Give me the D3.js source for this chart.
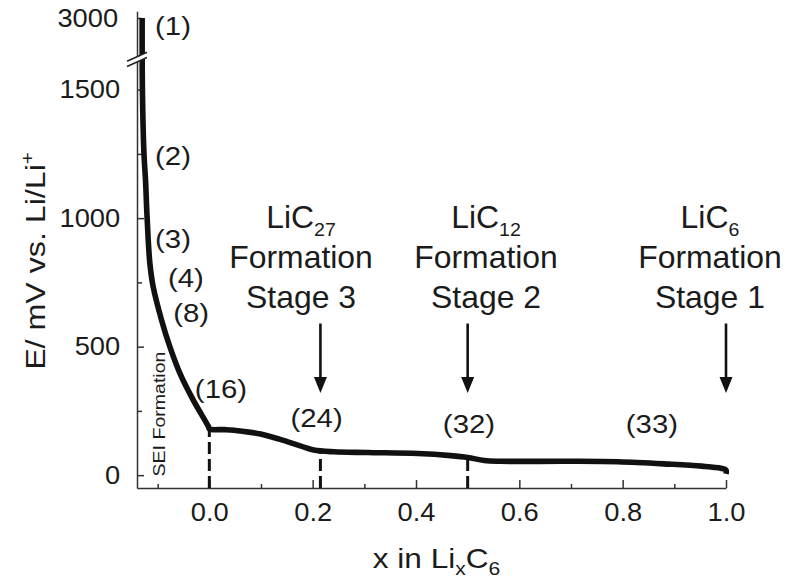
<!DOCTYPE html>
<html>
<head>
<meta charset="utf-8">
<script src="https://cdn.jsdelivr.net/npm/d3@7"></script>
<style>
  html, body { margin: 0; padding: 0; background: #fff; }
  svg { display: block; }
</style>
</head>
<body>
<svg id="chart" width="798" height="583"></svg>
<script>
// First lithiation of graphite: composition x in LixC6 and potential (mV vs. Li/Li+)
const compX = [-0.130, -0.1295, -0.1265, -0.1235, -0.1204, -0.1151, -0.1087, -0.0924, -0.0763,
               -0.0569, -0.0311, -0.0020, 0.000, 0.030, 0.060, 0.099, 0.137, 0.176, 0.202,
               0.241, 0.306, 0.403, 0.467, 0.500, 0.532, 0.564, 0.694, 0.791, 0.888, 0.953,
               0.990, 1.000, 1.000];
const potential = [3000, 1500, 1250, 1148, 1000, 824, 733, 603, 499,
                   396, 292, 190, 180, 177, 172, 160, 139, 114, 98,
                   91, 88, 84, 76, 69, 57, 54, 54, 52, 43, 35,
                   27, 20, 5];

// Axis ticks
const xTicksMajor = [0.0, 0.2, 0.4, 0.6, 0.8, 1.0];
const xTicksMinor = [-0.1, 0.1, 0.3, 0.5, 0.7, 0.9];
const yTicksMajor = [0, 500, 1000, 1500];
const yTicksMinor = [250, 750, 1250];
const yTicksUpper = [3000];

// Numbered points along the curve
const pointLabels = ["(1)", "(2)", "(3)", "(4)", "(8)", "(16)", "(24)", "(32)", "(33)"];
const pointLabelX = [-0.105, -0.105, -0.105, -0.080, -0.070, -0.028, 0.157, 0.452, 0.806];
const pointLabelE = [2900, 1207, 884, 732, 596, 300, 187, 164, 164];

// Ends of the staging steps (dashed drop lines)
const dropX = [0.0, 0.215, 0.5];
const dropE = [180, 93, 69];

// Staging annotations
const stageX = [0.215, 0.5, 1.0];
const stageTextX = [0.1775, 0.5355, 0.969];
const stagePhase = ["27", "12", "6"];
const stageName = ["Stage 3", "Stage 2", "Stage 1"];
const arrowTopE = 590, arrowTipE = 320;

const FONT = '"Liberation Sans", Arial, Helvetica, sans-serif';
const INK = "#1b1b1b";

const svg = d3.select("#chart").attr("font-family", FONT);

// Scales: x, and a broken potential axis (lower 0–1500 range, upper part around 3000)
const x = d3.scaleLinear().domain([-0.14, 1.0]).range([137, 726]);
const yLow = d3.scaleLinear().domain([-50, 1620]).range([488, 58.8]);
const yBreak = yLow(1620);
const upperPerMv = (yBreak - 18) / (3000 - 2760);
const yHigh = d3.scaleLinear().domain([2760, 3040])
  .range([yBreak, yBreak - (3040 - 2760) * upperPerMv]);
const yMap = v => (v > 2000 ? yHigh(v) : yLow(v));

const x0 = x.range()[0];
const yAxisBase = yLow.range()[0];

function styleAxis(g, size, sx) {
  g.attr("font-family", FONT).attr("font-size", size);
  g.selectAll(".domain").attr("stroke", "#333").attr("stroke-width", 1.5);
  g.selectAll(".tick line").attr("stroke", "#333").attr("stroke-width", 1.5);
  g.selectAll(".tick text").attr("fill", INK).attr("transform", `scale(${sx},1)`);
}

// x axis (ticks pointing into the plot)
const gx = svg.append("g").attr("transform", `translate(0,${yAxisBase})`)
  .call(d3.axisBottom(x).tickValues(xTicksMajor).tickFormat(d3.format(".1f"))
    .tickSizeInner(-8).tickSizeOuter(0).tickPadding(15));
styleAxis(gx, 26, 1.05);
const gxm = svg.append("g").attr("transform", `translate(0,${yAxisBase})`)
  .call(d3.axisBottom(x).tickValues(xTicksMinor).tickFormat("")
    .tickSizeInner(-4).tickSizeOuter(0));
gxm.select(".domain").remove();
styleAxis(gxm, 26, 1);

// y axis, lower segment
const gy = svg.append("g").attr("transform", `translate(${x0},0)`)
  .call(d3.axisLeft(yLow).tickValues(yTicksMajor).tickFormat(d3.format("d"))
    .tickSizeInner(-7).tickSizeOuter(0).tickPadding(16));
styleAxis(gy, 26, 1.05);
const gym = svg.append("g").attr("transform", `translate(${x0},0)`)
  .call(d3.axisLeft(yLow).tickValues(yTicksMinor).tickFormat("")
    .tickSizeInner(-5).tickSizeOuter(0));
gym.select(".domain").remove();
styleAxis(gym, 26, 1);

// y axis, upper segment
const gyu = svg.append("g").attr("transform", `translate(${x0},0)`)
  .call(d3.axisLeft(yHigh).tickValues(yTicksUpper).tickFormat(d3.format("d"))
    .tickSizeInner(-5).tickSizeOuter(0).tickPadding(18));
styleAxis(gyu, 26, 1.05);

// Drop lines at the end of each step
svg.append("g").selectAll("line").data(dropX).join("line")
  .attr("x1", d => x(d)).attr("x2", d => x(d))
  .attr("y1", yAxisBase).attr("y2", (d, i) => yLow(dropE[i]))
  .attr("stroke", "#111").attr("stroke-width", 3)
  .attr("stroke-dasharray", "12,5");

// Potential curve
const curveData = compX.map((v, i) => [v, potential[i]]);
const line = d3.line()
  .x(d => x(d[0])).y(d => yMap(d[1]))
  .curve(d3.curveCatmullRom.alpha(0.5));
svg.append("path").datum(curveData)
  .attr("d", line)
  .attr("fill", "none").attr("stroke", "#111")
  .attr("stroke-width", 5.6).attr("stroke-linejoin", "round");

// Axis break marks across the y axis and the curve
const bx1 = x0 - 10, bx2 = x0 + 10, bc = yBreak + 0.6, half = 2.6, slope = 0.45;
svg.append("path")
  .attr("d", `M${bx1},${bc - half + (x0 - bx1) * slope}L${bx2},${bc - half - (bx2 - x0) * slope}` +
             `L${bx2},${bc + half - (bx2 - x0) * slope}L${bx1},${bc + half + (x0 - bx1) * slope}Z`)
  .attr("fill", "#fff");
[-half, half].forEach(off => {
  svg.append("line")
    .attr("x1", bx1).attr("y1", bc + off + (x0 - bx1) * slope)
    .attr("x2", bx2).attr("y2", bc + off - (bx2 - x0) * slope)
    .attr("stroke", "#222").attr("stroke-width", 1.5);
});

// Generic stretched text helper
function addText(px, py, size, sx, anchor, rotate) {
  const tr = `translate(${px},${py})` + (rotate ? ` rotate(${rotate})` : "") + ` scale(${sx},1)`;
  return svg.append("text").attr("transform", tr)
    .attr("font-size", size).attr("text-anchor", anchor).attr("fill", INK);
}

// Numbered points
pointLabels.forEach((t, i) => {
  addText(x(pointLabelX[i]), yMap(pointLabelE[i]), 26, 1.13, "start").text(t);
});

// SEI formation note
addText(x(-0.09) + 2, yLow(-5), 17, 1.15, "start", -90).text("SEI Formation");

// Stage annotations with arrows
stageX.forEach((sxv, i) => {
  const ax = x(sxv);
  const yTop = yLow(arrowTopE), yTip = yLow(arrowTipE);
  const tx = x(stageTextX[i]);
  const t1 = addText(tx, yTop - 96, 31, 1.03, "middle");
  t1.append("tspan").text("LiC");
  t1.append("tspan").attr("font-size", 19).attr("dy", 8).text(stagePhase[i]);
  addText(tx, yTop - 56, 31, 1.03, "middle").text("Formation");
  addText(tx, yTop - 16, 31, 1.03, "middle").text(stageName[i]);

  svg.append("line")
    .attr("x1", ax).attr("x2", ax).attr("y1", yTop).attr("y2", yTip - 12)
    .attr("stroke", "#111").attr("stroke-width", 2.6);
  svg.append("path")
    .attr("d", `M${ax - 6.5},${yTip - 16}L${ax + 6.5},${yTip - 16}L${ax},${yTip}Z`)
    .attr("fill", "#111");
});

// Axis titles
const xt = addText((x.range()[0] + x.range()[1]) / 2 + 5, 568, 27, 1.17, "middle");
xt.append("tspan").text("x in Li");
xt.append("tspan").attr("font-size", 18).attr("dy", 7).text("x");
xt.append("tspan").attr("dy", -7).text("C");
xt.append("tspan").attr("font-size", 18).attr("dy", 7).text("6");

const yt = addText(45, 261, 28, 1.15, "middle", -90);
yt.append("tspan").text("E/ mV vs. Li/Li");
yt.append("tspan").attr("font-size", 18).attr("dy", -11).text("+");
</script>
</body>
</html>
